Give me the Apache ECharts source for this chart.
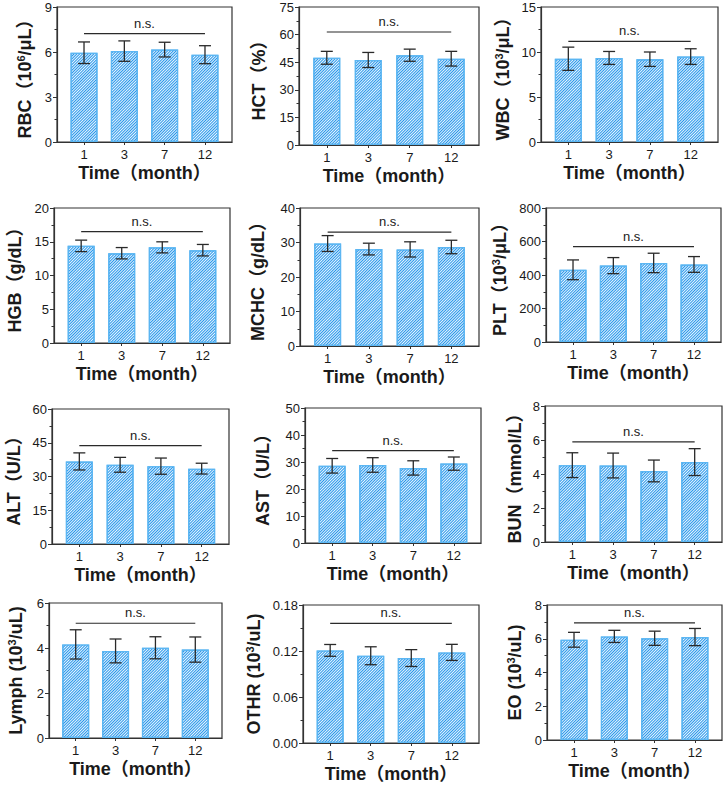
<!DOCTYPE html>
<html>
<head>
<meta charset="utf-8">
<script src="https://cdn.jsdelivr.net/npm/echarts@6/dist/echarts.min.js"></script>
<style>html,body{margin:0;padding:0;background:#fff}#c{width:726px;height:786px}</style>
</head>
<body>
<div id="c"></div>
<script>
// ---- data ----
const categories = ['1', '3', '7', '12'];
const xTitle = 'Time（month）';

const rbcMean = [5.95, 6.06, 6.16, 5.82];   const rbcSd = [0.72, 0.68, 0.49, 0.60];
const hctMean = [47.4, 46.2, 48.8, 46.9];   const hctSd = [3.5, 4.1, 3.3, 4.0];
const wbcMean = [9.25, 9.34, 9.20, 9.49];   const wbcSd = [1.29, 0.72, 0.80, 0.87];
const hgbMean = [14.39, 13.30, 14.17, 13.75]; const hgbSd = [0.85, 0.84, 0.82, 0.85];
const mchcMean = [29.7, 28.1, 28.0, 28.7];  const mchcSd = [2.3, 1.7, 2.2, 1.95];
const pltMean = [431, 456, 472, 463];       const pltSd = [59, 48, 58, 47];
const altMean = [36.7, 35.2, 34.6, 33.5];   const altSd = [3.8, 3.3, 3.6, 2.4];
const astMean = [28.6, 28.9, 27.8, 29.4];   const astSd = [2.7, 2.7, 2.65, 2.45];
const bunMean = [4.52, 4.50, 4.18, 4.70];   const bunSd = [0.73, 0.73, 0.64, 0.79];
const lymphMean = [4.16, 3.87, 4.01, 3.93]; const lymphSd = [0.65, 0.53, 0.49, 0.56];
const othrMean = [0.1208, 0.1138, 0.1108, 0.1182]; const othrSd = [0.0077, 0.0117, 0.011, 0.0105];
const eoMean = [5.94, 6.14, 6.03, 6.10];    const eoSd = [0.44, 0.36, 0.42, 0.51];

const yTitles = [
  '{b|RBC（10}{s|6}{b|/μL）}', '{b|HCT（%）}', '{b|WBC（10}{s|3}{b|/μL）}',
  '{b|HGB（g/dL）}', '{b|MCHC（g/dL）}', '{b|PLT（10}{s|3}{b|/μL）}',
  '{b|ALT（U/L）}', '{b|AST（U/L）}', '{b|BUN（mmol/L）}',
  '{b|Lymph (10}{s|3}{b|/uL)}', '{b|OTHR (10}{s|3}{b|/uL)}', '{b|EO (10}{s|3}{b|/uL)}'
];
const yMax = [9, 75, 15, 20, 40, 800, 60, 50, 8, 6, 0.18, 8];
const yInterval = [3, 15, 5, 5, 10, 200, 15, 10, 2, 2, 0.06, 2];
const yDecimals = [0, 0, 0, 0, 0, 0, 0, 0, 0, 0, 2, 0];
const nsLevel = [7.22, 61.4, 11.17, 16.5, 33.0, 570, 43.7, 34.2, 5.89, 5.1, 0.156, 6.94];
const nsLabel = 'n.s.';

const means = [rbcMean, hctMean, wbcMean, hgbMean, mchcMean, pltMean, altMean, astMean, bunMean, lymphMean, othrMean, eoMean];
const sds = [rbcSd, hctSd, wbcSd, hgbSd, mchcSd, pltSd, altSd, astSd, bunSd, lymphSd, othrSd, eoSd];

// ---- layout (pixels) ----
const gridBox = [
  [57, 7, 175, 135], [299, 7, 180, 138], [541, 7, 177, 135],
  [54, 208, 176, 135], [300, 208, 179, 138], [546, 208, 175, 134],
  [52, 409, 177, 135], [305, 408, 176, 135], [545, 406, 177, 136],
  [49, 603, 173, 135], [303, 605, 176, 138], [547, 605, 175, 135]
];
const yNameGap = [22, 30, 28, 29, 32, 36, 28, 32, 20, 23, 39, 22];

const FONT = '"Liberation Sans", Arial, "Noto Sans CJK SC", sans-serif';
const INK = '#1a1a1a';

const grids = [], xAxes = [], yAxes = [], series = [];
for (let p = 0; p < 12; p++) {
  const [l, t, w, h] = gridBox[p];
  grids.push({ left: l, top: t, width: w, height: h, show: true, borderColor: '#333', borderWidth: 1.2, backgroundColor: 'transparent' });
  xAxes.push({
    gridIndex: p, type: 'value', min: 0.33, max: 4.67,
    splitLine: { show: false },
    axisLine: { show: true, onZero: false, lineStyle: { color: '#333', width: 1.2 } },
    axisTick: { show: true, customValues: [1, 2, 3, 4], length: 3, lineStyle: { color: '#333' } },
    axisLabel: { customValues: [1, 2, 3, 4], formatter: v => categories[Math.round(v) - 1], fontSize: 13, color: INK, fontFamily: FONT, margin: 6 },
    name: xTitle, nameLocation: 'middle', nameGap: 22,
    nameTextStyle: { fontSize: 18, fontWeight: 'bold', color: INK, fontFamily: FONT }
  });
  yAxes.push({
    gridIndex: p, type: 'value', min: 0, max: yMax[p], interval: yInterval[p],
    splitLine: { show: false },
    axisLine: { show: true, lineStyle: { color: '#333', width: 1.2 } },
    axisTick: { show: true, length: 4, lineStyle: { color: '#333' } },
    minorTick: { show: true, splitNumber: 2, length: 2.5, lineStyle: { color: '#333' } },
    axisLabel: { fontSize: 13, color: INK, fontFamily: FONT, margin: 5, formatter: v => Number(v).toFixed(yDecimals[p]) },
    name: yTitles[p], nameLocation: 'middle', nameGap: yNameGap[p],
    nameTextStyle: {
      color: INK, fontFamily: FONT,
      rich: {
        b: { fontSize: 18, fontWeight: 'bold', color: INK, fontFamily: FONT, lineHeight: 20 },
        s: { fontSize: 11, fontWeight: 'bold', color: INK, fontFamily: FONT, verticalAlign: 'top', lineHeight: 20, padding: [0, 0, 6, 0] }
      }
    }
  });
  const m = means[p], sd = sds[p];
  series.push({
    type: 'bar', xAxisIndex: p, yAxisIndex: p, barWidth: 27,
    data: m.map((v, i) => [i + 1, v]),
    itemStyle: {
      color: '#eaf5fe', borderColor: '#5cb6f2', borderWidth: 1.2,
      decal: { symbol: 'rect', symbolSize: 1, color: '#2696ea', dashArrayX: [1, 0], dashArrayY: [1, 1], rotation: -Math.PI / 4 }
    },
    silent: true, z: 2
  });
  series.push({
    type: 'custom', xAxisIndex: p, yAxisIndex: p, z: 5, silent: true,
    data: m.map((v, i) => [i + 1, v - sd[i], v + sd[i]]),
    renderItem: (params, api) => {
      const x = api.value(0);
      const lo = api.coord([x, api.value(1)]);
      const hi = api.coord([x, api.value(2)]);
      const cw = 6;
      const st = { stroke: '#2a2a2a', lineWidth: 1.3 };
      return {
        type: 'group', children: [
          { type: 'line', shape: { x1: lo[0], y1: lo[1], x2: hi[0], y2: hi[1] }, style: st },
          { type: 'line', shape: { x1: hi[0] - cw, y1: hi[1], x2: hi[0] + cw, y2: hi[1] }, style: st },
          { type: 'line', shape: { x1: lo[0] - cw, y1: lo[1], x2: lo[0] + cw, y2: lo[1] }, style: st }
        ]
      };
    }
  });
  series.push({
    type: 'custom', xAxisIndex: p, yAxisIndex: p, z: 5, silent: true,
    data: [[1, 4, nsLevel[p]]],
    renderItem: (params, api) => {
      const a = api.coord([api.value(0), api.value(2)]);
      const b = api.coord([api.value(1), api.value(2)]);
      return {
        type: 'group', children: [
          { type: 'line', shape: { x1: a[0], y1: a[1], x2: b[0], y2: b[1] }, style: { stroke: '#2a2a2a', lineWidth: 1.2 } },
          { type: 'text', x: (a[0] + b[0]) / 2, y: a[1] - 4, style: { text: nsLabel, fontSize: 13, fontFamily: FONT, fill: INK, align: 'center', verticalAlign: 'bottom' } }
        ]
      };
    }
  });
}

const chart = echarts.init(document.getElementById('c'), null, { renderer: 'svg', width: 726, height: 786 });
chart.setOption({ animation: false, backgroundColor: '#fff', grid: grids, xAxis: xAxes, yAxis: yAxes, series: series });
</script>
</body>
</html>
